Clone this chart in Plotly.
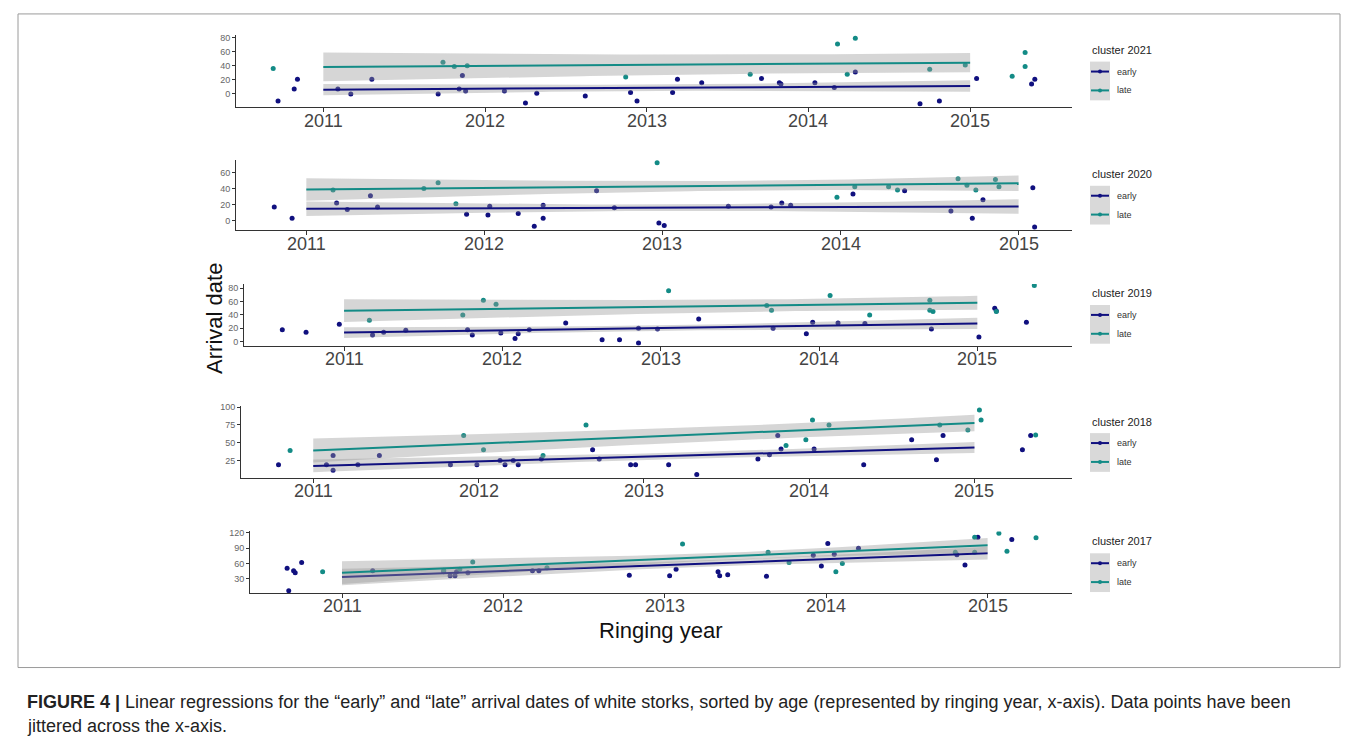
import numpy as np
import plotly.graph_objects as go

W, H = 1358, 748

# ---------------- data ----------------
cohorts = [2021, 2020, 2019, 2018, 2017]

early_x_2021 = [2010.72, 2010.82, 2010.84, 2011.09, 2011.17, 2011.30, 2011.71, 2011.84, 2011.86, 2011.88,
                2012.12, 2012.25, 2012.32, 2012.62, 2012.90, 2012.94, 2013.16, 2013.19, 2013.34, 2013.71,
                2013.82, 2013.83, 2014.04, 2014.16, 2014.29, 2014.69, 2014.81, 2015.04, 2015.38, 2015.40]
early_y_2021 = [-10, 7, 21, 7, 0, 21, 0, 7, 26, 4, 4, -13, 1, -3, 2, -10, 2, 21, 16, 22,
                16, 14, 16, 9, 31, -14, -10, 22, 14, 21]
late_x_2021 = [2010.69, 2011.74, 2011.81, 2011.89, 2012.87, 2013.64, 2014.18, 2014.24, 2014.29, 2014.75,
               2014.97, 2015.26, 2015.34, 2015.34]
late_y_2021 = [36, 45, 39, 40, 24, 28, 71, 28, 79, 35, 41, 25, 59, 39]

early_x_2020 = [2010.82, 2010.92, 2011.17, 2011.23, 2011.36, 2011.40, 2011.90, 2012.02, 2012.03, 2012.19,
                2012.28, 2012.33, 2012.33, 2012.63, 2012.73, 2012.98, 2013.01, 2013.37, 2013.61, 2013.67,
                2013.72, 2014.07, 2014.36, 2014.62, 2014.74, 2014.80, 2015.08, 2015.09]
early_y_2020 = [17, 3, 22, 14, 31, 17, 8, 7, 18, 9, -7, 3, 19, 37, 16, -3, -6, 18, 17, 22,
                19, 33, 37, 12, 3, 26, 41, -8]
late_x_2020 = [2011.15, 2011.66, 2011.74, 2011.84, 2012.97, 2013.98, 2014.08, 2014.27, 2014.32, 2014.66,
               2014.71, 2014.76, 2014.87, 2014.89]
late_y_2020 = [38, 40, 47, 21, 72, 29, 42, 42, 38, 52, 44, 38, 51, 42]

early_x_2019 = [2010.61, 2010.76, 2010.97, 2011.18, 2011.25, 2011.39, 2011.78, 2011.81, 2011.99, 2012.08,
                2012.10, 2012.17, 2012.40, 2012.63, 2012.74, 2012.86, 2012.86, 2012.98, 2013.24, 2013.71,
                2013.92, 2013.96, 2014.12, 2014.29, 2014.71, 2015.01, 2015.11, 2015.12, 2015.31]
early_y_2019 = [18, 14, 26, 10, 14, 17, 18, 10, 13, 5, 12, 18, 28, 3, 3, 20, -2, 19, 34, 20,
                12, 29, 28, 27, 19, 7, 50, 46, 29]
late_x_2019 = [2011.16, 2011.75, 2011.88, 2011.96, 2013.05, 2013.67, 2013.70, 2014.07, 2014.32, 2014.70,
               2014.70, 2014.72, 2015.12, 2015.36]
late_y_2019 = [32, 40, 62, 56, 76, 54, 47, 69, 40, 62, 47, 45, 45, 84]

early_x_2018 = [2010.79, 2011.08, 2011.12, 2011.12, 2011.27, 2011.40, 2011.83, 2011.99, 2012.13, 2012.16,
                2012.21, 2012.24, 2012.38, 2012.69, 2012.73, 2012.92, 2012.95, 2013.15, 2013.32, 2013.69,
                2013.76, 2013.81, 2013.83, 2014.03, 2014.33, 2014.62, 2014.77, 2014.81, 2015.29, 2015.34]
early_y_2018 = [19, 19, 32, 11, 19, 32, 19, 19, 25, 19, 25, 19, 27, 40, 27, 19, 19, 19, 5, 27,
                33, 60, 41, 41, 19, 54, 26, 60, 40, 60]
late_x_2018 = [2010.86, 2011.91, 2012.03, 2012.39, 2012.65, 2013.86, 2013.98, 2014.02, 2014.12, 2014.79,
               2014.96, 2015.03, 2015.04, 2015.37]
late_y_2018 = [39, 60, 40, 32, 75, 46, 54, 82, 75, 75, 68, 96, 82, 61]

early_x_2017 = [2010.66, 2010.67, 2010.70, 2010.71, 2010.75, 2011.19, 2011.63, 2011.67, 2011.70, 2011.71,
                2011.78, 2012.18, 2012.22, 2012.78, 2013.03, 2013.07, 2013.33, 2013.34, 2013.39, 2013.63,
                2013.92, 2013.97, 2014.01, 2014.05, 2014.20, 2014.81, 2014.86, 2014.94, 2015.15]
early_y_2017 = [51, 7, 46, 42, 62, 46, 44, 36, 36, 44, 42, 46, 46, 37, 36, 49, 44, 36, 38, 35,
                76, 55, 99, 78, 90, 77, 57, 111, 107]
late_x_2017 = [2010.88, 2011.63, 2011.73, 2011.81, 2012.27, 2013.11, 2013.64, 2013.77, 2014.06, 2014.10,
               2014.80, 2014.92, 2014.92, 2015.07, 2015.12, 2015.30]
late_y_2017 = [44, 47, 49, 63, 52, 98, 82, 62, 44, 60, 82, 111, 82, 119, 84, 110]

# fitted values of each regression at the first and last ringing year
early_fit_2011 = [6.1, 14.7, 13.6, 17.2, 33.9]
early_fit_2015 = [11.3, 17.5, 27.3, 43.2, 80.2]
late_fit_2011 = [38.3, 38.7, 46.3, 39.0, 42.2]
late_fit_2015 = [44.4, 46.5, 58.0, 77.7, 95.6]

# confidence band: half-width = sqrt(se0^2 + slope_se^2 * (x - x_mean)^2)
early_se0 = [4.5, 4.0, 4.0, 4.5, 6.0]
early_se_slope = [3.4, 4.0, 3.56, 3.5, 6.45]
early_xmean = [2013.0, 2013.0, 2012.9, 2013.2, 2013.3]
late_se0 = [13.3, 6.0, 9.0, 10.0, 7.0]
late_se_slope = [4.7, 5.0, 4.92, 4.9, 8.34]
late_xmean = [2014.3, 2013.5, 2013.9, 2013.8, 2013.5]

year_ticks = [2011, 2012, 2013, 2014, 2015]
y_ticks = [[0, 20, 40, 60, 80], [0, 20, 40, 60], [0, 20, 40, 60, 80], [25, 50, 75, 100], [30, 60, 90, 120]]

points = {
    2021: (early_x_2021, early_y_2021, late_x_2021, late_y_2021),
    2020: (early_x_2020, early_y_2020, late_x_2020, late_y_2020),
    2019: (early_x_2019, early_y_2019, late_x_2019, late_y_2019),
    2018: (early_x_2018, early_y_2018, late_x_2018, late_y_2018),
    2017: (early_x_2017, early_y_2017, late_x_2017, late_y_2017),
}

# ---------------- layout geometry (pixels) ----------------
# left, right, top, bottom of each panel
panel_box = [(236, 1072, 31, 104), (236, 1072, 157, 228), (244, 1072, 282, 344),
             (241, 1072, 405, 477), (250, 1072, 531, 593)]
x_ranges = [[2010.46, 2015.63], [2010.605, 2015.30], [2010.368, 2015.598],
            [2010.563, 2015.59], [2010.43, 2015.523]]
y_ranges = [[-19, 84], [-12.2, 75.4], [-5.9, 85.9], [0.4, 101.4], [2.5, 122.5]]
legend_rows = [(46, 68, 87), (171, 193, 212), (291, 313, 332), (421, 442, 461), (541, 563, 582)]

NAVY = "#10107f"
TEAL = "#138b86"
BAND = "rgba(153,153,153,0.4)"
AXIS = "#333333"
FONT = "Liberation Sans, Arial, sans-serif"


def px(x):
    return x / W


def py(y):
    return 1 - y / H


fig = go.Figure()

for i, yr in enumerate(cohorts):
    ax = "" if i == 0 else str(i + 1)
    xref, yref = "x" + ax, "y" + ax
    ex, ey, lx, ly = points[yr]

    fig.add_trace(go.Scatter(x=ex, y=ey, mode="markers", xaxis=xref, yaxis=yref,
                             marker=dict(color=NAVY, size=5), showlegend=False, name="early"))
    fig.add_trace(go.Scatter(x=lx, y=ly, mode="markers", xaxis=xref, yaxis=yref,
                             marker=dict(color=TEAL, size=5), showlegend=False, name="late"))

    xs = np.linspace(2011, 2015, 81)
    for a, b, s0, s1, xm, col, nm in [
        (early_fit_2011[i], early_fit_2015[i], early_se0[i], early_se_slope[i], early_xmean[i], NAVY, "early"),
        (late_fit_2011[i], late_fit_2015[i], late_se0[i], late_se_slope[i], late_xmean[i], TEAL, "late"),
    ]:
        fit = a + (b - a) * (xs - 2011) / 4
        half = np.sqrt(s0 ** 2 + s1 ** 2 * (xs - xm) ** 2)
        fig.add_trace(go.Scatter(x=np.concatenate([xs, xs[::-1]]),
                                 y=np.concatenate([fit + half, (fit - half)[::-1]]),
                                 mode="lines", fill="toself", fillcolor=BAND, line=dict(width=0),
                                 xaxis=xref, yaxis=yref, hoverinfo="skip", showlegend=False))
        fig.add_trace(go.Scatter(x=xs, y=fit, mode="lines", line=dict(color=col, width=2),
                                 xaxis=xref, yaxis=yref, showlegend=False, name=nm))

    l, r, t, b = panel_box[i]
    common = dict(showline=True, linecolor=AXIS, linewidth=1, ticks="outside", tickcolor=AXIS,
                  showgrid=False, zeroline=False, fixedrange=True)
    fig.update_layout(**{
        "xaxis" + ax: dict(domain=[px(l), px(r)], range=x_ranges[i], tickvals=year_ticks,
                           ticklen=4, showticklabels=False, anchor=yref, **common),
        "yaxis" + ax: dict(domain=[py(b), py(t)], range=y_ranges[i], tickvals=y_ticks[i],
                           ticklen=3, tickfont=dict(size=9, color="#666666", family=FONT),
                           anchor=xref, **common),
    })

    # year labels under the x axis, placed on the axis scale
    for yv in year_ticks:
        fig.add_annotation(x=yv, xref=xref, y=py(b + 13.5), yref="paper", text=str(yv),
                           showarrow=False, xanchor="center", yanchor="middle",
                           font=dict(size=18, color="#444444", family=FONT))

    # legend for this panel
    ty, ey_, ly_ = legend_rows[i]
    fig.add_annotation(x=px(1090), y=py(ty), xref="paper", yref="paper", text="cluster %d" % yr,
                       showarrow=False, xanchor="left", yanchor="middle",
                       font=dict(size=11, color="#222222", family=FONT))
    fig.add_shape(type="rect", xref="paper", yref="paper", x0=px(1090), x1=px(1110),
                  y0=py(ey_ - 10), y1=py(ly_ + 10), fillcolor="#d9d9d9", line=dict(width=0), layer="below")
    for yy, col, lab in [(ey_, NAVY, "early"), (ly_, TEAL, "late")]:
        fig.add_shape(type="line", xref="paper", yref="paper", x0=px(1091), x1=px(1109),
                      y0=py(yy), y1=py(yy), line=dict(color=col, width=2))
        fig.add_shape(type="circle", xref="paper", yref="paper", x0=px(1098), x1=px(1102),
                      y0=py(yy + 2), y1=py(yy - 2), fillcolor=col, line=dict(width=0))
        fig.add_annotation(x=px(1115), y=py(yy), xref="paper", yref="paper", text=lab,
                           showarrow=False, xanchor="left", yanchor="middle",
                           font=dict(size=9, color="#333333", family=FONT))

# axis titles
fig.add_annotation(x=px(215), y=py(317), xref="paper", yref="paper", text="Arrival date",
                   textangle=-90, showarrow=False, xanchor="center", yanchor="middle",
                   font=dict(size=22, color="#111111", family=FONT))
fig.add_annotation(x=px(661), y=py(631), xref="paper", yref="paper", text="Ringing year",
                   showarrow=False, xanchor="center", yanchor="middle",
                   font=dict(size=22, color="#111111", family=FONT))

# figure frame
fig.add_shape(type="rect", xref="paper", yref="paper", x0=px(18), x1=px(1340), y0=py(668), y1=py(10),
              line=dict(color="#9a9a9a", width=1), fillcolor="rgba(0,0,0,0)")

# caption
CAP = "Liberation Sans, Arial, sans-serif"
fig.add_annotation(x=px(25), y=py(703), xref="paper", yref="paper", xanchor="left", yanchor="middle",
                   showarrow=False, align="left",
                   text="<b>FIGURE 4 |</b> Linear regressions for the “early” and “late” arrival dates of white "
                        "storks, sorted by age (represented by ringing year, x-axis). Data points have been",
                   font=dict(size=18, color="#222222", family=CAP))
fig.add_annotation(x=px(25), y=py(727), xref="paper", yref="paper", xanchor="left", yanchor="middle",
                   showarrow=False, align="left", text="jittered across the x-axis.",
                   font=dict(size=18, color="#222222", family=CAP))

fig.update_layout(width=W, height=H, margin=dict(l=0, r=0, t=0, b=0),
                  paper_bgcolor="white", plot_bgcolor="white", showlegend=False)

fig.write_html("out.html")
